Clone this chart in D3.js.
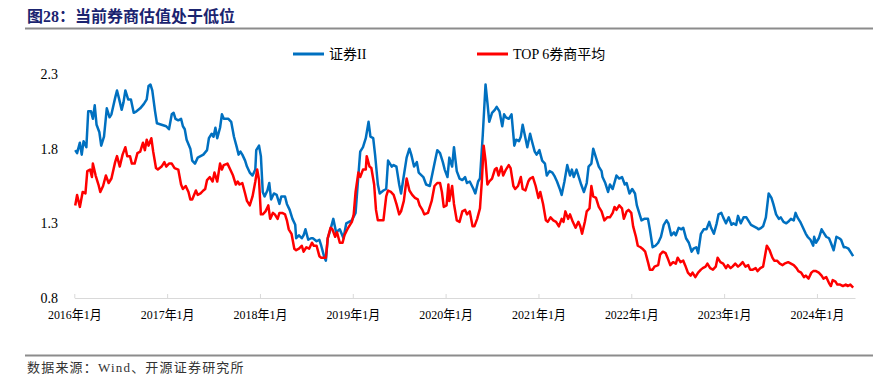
<!DOCTYPE html>
<html>
<head>
<meta charset="utf-8">
<script src="https://cdn.jsdelivr.net/npm/d3@7"></script>
<style>
  body { margin: 0; background: #fff; }
  svg text { font-family: "Liberation Serif", "Noto Sans CJK SC", serif; }
</style>
</head>
<body>
<svg id="chart"></svg>
<script>
// time in decimal years
var blueT = [2016.01,2016.03,2016.06,2016.08,2016.10,2016.13,2016.15,2016.18,2016.20,2016.22,2016.24,2016.27,2016.29,2016.32,2016.35,2016.38,2016.40,2016.44,2016.46,2016.48,2016.51,2016.53,2016.55,2016.58,2016.61,2016.64,2016.67,2016.71,2016.75,2016.78,2016.80,2016.82,2016.84,2016.87,2016.89,2016.94,2016.99,
  2017.02,2017.05,2017.07,2017.09,2017.12,2017.15,2017.17,2017.19,2017.21,2017.25,2017.27,2017.30,2017.33,2017.39,2017.43,2017.45,2017.48,2017.50,2017.52,2017.54,2017.57,2017.59,2017.61,2017.66,2017.69,2017.72,2017.75,2017.77,2017.79,2017.81,2017.84,2017.86,2017.89,2017.92,2017.95,2017.96,2017.99,
  2018.01,2018.03,2018.05,2018.08,2018.10,2018.12,2018.15,2018.18,2018.21,2018.23,2018.27,2018.29,2018.32,2018.35,2018.38,2018.39,2018.42,2018.45,2018.47,2018.49,2018.52,2018.55,2018.57,2018.61,2018.64,2018.66,2018.69,2018.71,2018.73,2018.76,2018.79,2018.82,2018.86,2018.90,2018.93,2018.99,
  2019.03,2019.06,2019.08,2019.11,2019.14,2019.17,2019.19,2019.22,2019.24,2019.27,2019.29,2019.33,2019.36,2019.38,2019.42,2019.44,2019.47,2019.50,2019.52,2019.54,2019.58,2019.61,2019.63,2019.66,2019.69,2019.71,2019.76,2019.79,2019.83,2019.86,2019.88,2019.91,2019.94,2019.97,2019.99,
  2020.02,2020.04,2020.07,2020.09,2020.12,2020.15,2020.18,2020.21,2020.23,2020.26,2020.30,2020.32,2020.35,2020.37,2020.40,2020.43,2020.45,2020.47,2020.50,2020.53,2020.55,2020.58,2020.61,2020.63,2020.65,2020.68,2020.71,2020.74,2020.76,2020.79,2020.81,2020.83,2020.85,2020.88,2020.91,2020.93,2020.96,2020.98,
  2021.01,2021.04,2021.07,2021.09,2021.12,2021.15,2021.17,2021.20,2021.23,2021.25,2021.28,2021.31,2021.34,2021.36,2021.38,2021.41,2021.44,2021.46,2021.49,2021.52,2021.54,2021.57,2021.59,2021.62,2021.65,2021.68,2021.69,2021.72,2021.75,2021.77,2021.80,2021.84,2021.87,2021.90,2021.93,2021.95,2021.98,
  2022.01,2022.04,2022.06,2022.09,2022.11,2022.14,2022.18,2022.20,2022.23,2022.26,2022.29,2022.32,2022.35,2022.38,2022.40,2022.43,2022.46,2022.48,2022.51,2022.54,2022.56,2022.59,2022.62,2022.65,2022.67,2022.70,2022.72,2022.75,2022.78,2022.81,2022.84,2022.86,2022.89,2022.92,2022.94,2022.97,2022.99,
  2023.02,2023.05,2023.08,2023.10,2023.13,2023.15,2023.18,2023.21,2023.24,2023.27,2023.29,2023.32,2023.35,2023.37,2023.40,2023.42,2023.45,2023.48,2023.51,2023.53,2023.56,2023.59,2023.61,2023.64,2023.67,2023.69,2023.72,2023.75,2023.77,2023.79,2023.82,2023.85,2023.88,2023.90,2023.93,2023.96,2023.97,2023.99,
  2024.02,2024.05,2024.07,2024.10,2024.13,2024.15,2024.18,2024.21,2024.24,2024.26,2024.29,2024.31,2024.34,2024.37,2024.39];
var blueV = [1.79,1.77,1.84,1.76,1.85,1.81,2.05,2.05,2.00,2.09,1.96,1.91,1.82,1.88,2.07,2.01,2.03,2.14,2.19,2.14,2.06,2.11,2.19,2.13,2.13,2.04,2.05,2.07,2.10,2.13,2.22,2.23,2.19,2.05,1.97,1.96,1.95,
  1.93,2.03,2.04,2.00,1.99,2.00,1.95,1.93,1.86,1.80,1.72,1.70,1.74,1.76,1.79,1.87,1.90,1.88,1.94,1.87,1.94,2.03,2.00,2.00,1.98,1.88,1.81,1.76,1.78,1.76,1.72,1.68,1.64,1.62,1.66,1.79,1.82,
  1.75,1.51,1.48,1.52,1.57,1.46,1.50,1.49,1.43,1.48,1.48,1.43,1.39,1.33,1.29,1.20,1.22,1.20,1.22,1.26,1.19,1.20,1.20,1.18,1.19,1.15,1.08,1.05,1.20,1.26,1.33,1.24,1.26,1.20,1.30,1.32,
  1.37,1.62,1.78,1.81,1.87,1.98,1.88,1.87,1.76,1.56,1.50,1.52,1.53,1.72,1.68,1.69,1.68,1.56,1.50,1.58,1.74,1.80,1.76,1.68,1.71,1.64,1.61,1.56,1.55,1.64,1.70,1.79,1.77,1.71,1.66,
  1.61,1.74,1.68,1.81,1.65,1.60,1.59,1.61,1.57,1.58,1.53,1.50,1.58,1.60,1.89,2.23,2.11,1.98,2.04,2.06,2.08,2.05,1.95,2.03,2.01,2.00,2.03,1.82,1.86,1.85,1.88,1.96,1.90,1.81,1.90,1.85,1.78,1.76,
  1.79,1.72,1.70,1.62,1.65,1.64,1.62,1.58,1.53,1.49,1.58,1.69,1.62,1.66,1.61,1.66,1.60,1.56,1.51,1.57,1.68,1.70,1.80,1.74,1.68,1.65,1.61,1.57,1.51,1.56,1.53,1.62,1.60,1.61,1.56,1.57,1.50,
  1.53,1.50,1.42,1.36,1.32,1.33,1.33,1.26,1.14,1.15,1.17,1.21,1.29,1.32,1.30,1.22,1.24,1.22,1.27,1.26,1.27,1.20,1.17,1.11,1.13,1.14,1.10,1.23,1.26,1.26,1.31,1.27,1.23,1.30,1.36,1.37,1.34,
  1.30,1.34,1.29,1.30,1.29,1.35,1.30,1.34,1.34,1.31,1.29,1.28,1.27,1.26,1.27,1.28,1.34,1.50,1.47,1.43,1.36,1.33,1.34,1.31,1.30,1.31,1.33,1.32,1.37,1.34,1.31,1.27,1.23,1.21,1.19,1.15,1.21,1.17,
  1.20,1.26,1.24,1.21,1.20,1.17,1.12,1.21,1.20,1.19,1.14,1.14,1.13,1.10,1.08];

var redT = [2016.01,2016.03,2016.06,2016.09,2016.12,2016.14,2016.17,2016.19,2016.20,2016.23,2016.26,2016.28,2016.31,2016.34,2016.37,2016.40,2016.44,2016.46,2016.49,2016.52,2016.55,2016.57,2016.60,2016.62,2016.65,2016.68,2016.71,2016.74,2016.76,2016.78,2016.80,2016.83,2016.85,2016.88,2016.90,2016.94,2016.97,2016.99,
  2017.02,2017.05,2017.08,2017.12,2017.15,2017.17,2017.20,2017.23,2017.25,2017.27,2017.31,2017.33,2017.36,2017.39,2017.41,2017.43,2017.46,2017.49,2017.51,2017.54,2017.57,2017.59,2017.61,2017.65,2017.68,2017.71,2017.74,2017.76,2017.78,2017.81,2017.84,2017.86,2017.89,2017.92,2017.95,2017.97,2017.99,
  2018.01,2018.03,2018.06,2018.09,2018.11,2018.14,2018.16,2018.19,2018.21,2018.24,2018.27,2018.29,2018.31,2018.34,2018.37,2018.39,2018.42,2018.45,2018.47,2018.50,2018.53,2018.56,2018.58,2018.61,2018.64,2018.66,2018.69,2018.71,2018.73,2018.76,2018.78,2018.81,2018.83,2018.86,2018.89,2018.91,2018.95,2018.99,
  2019.01,2019.03,2019.06,2019.08,2019.11,2019.14,2019.15,2019.18,2019.20,2019.23,2019.25,2019.27,2019.33,2019.36,2019.38,2019.41,2019.44,2019.47,2019.50,2019.52,2019.55,2019.58,2019.61,2019.64,2019.67,2019.70,2019.72,2019.75,2019.77,2019.81,2019.85,2019.88,2019.91,2019.94,2019.96,2019.98,
  2020.01,2020.03,2020.04,2020.07,2020.09,2020.12,2020.15,2020.18,2020.21,2020.23,2020.26,2020.29,2020.31,2020.34,2020.37,2020.39,2020.41,2020.43,2020.45,2020.47,2020.50,2020.53,2020.55,2020.57,2020.60,2020.62,2020.65,2020.68,2020.70,2020.73,2020.75,2020.78,2020.81,2020.83,2020.86,2020.89,2020.91,2020.94,2020.97,
  2021.00,2021.02,2021.05,2021.08,2021.10,2021.13,2021.16,2021.19,2021.22,2021.25,2021.27,2021.29,2021.32,2021.34,2021.37,2021.40,2021.43,2021.45,2021.47,2021.50,2021.52,2021.55,2021.57,2021.59,2021.62,2021.65,2021.68,2021.71,2021.74,2021.77,2021.80,2021.82,2021.84,2021.87,2021.90,2021.92,2021.95,2021.97,
  2022.00,2022.02,2022.05,2022.07,2022.10,2022.12,2022.15,2022.18,2022.20,2022.23,2022.25,2022.29,2022.31,2022.34,2022.37,2022.39,2022.42,2022.45,2022.48,2022.50,2022.53,2022.56,2022.58,2022.61,2022.64,2022.66,2022.69,2022.72,2022.75,2022.77,2022.80,2022.82,2022.85,2022.88,2022.91,2022.93,2022.96,2022.99,
  2023.02,2023.04,2023.07,2023.09,2023.12,2023.15,2023.17,2023.20,2023.23,2023.26,2023.28,2023.31,2023.34,2023.36,2023.39,2023.42,2023.44,2023.46,2023.49,2023.52,2023.54,2023.57,2023.60,2023.63,2023.65,2023.69,2023.72,2023.75,2023.78,2023.80,2023.83,2023.86,2023.88,2023.91,2023.94,2023.96,2023.99,
  2024.02,2024.05,2024.07,2024.10,2024.13,2024.15,2024.17,2024.20,2024.22,2024.25,2024.28,2024.31,2024.33,2024.36,2024.39];
var redV = [1.42,1.49,1.41,1.51,1.50,1.65,1.66,1.61,1.70,1.62,1.56,1.51,1.55,1.62,1.57,1.60,1.71,1.75,1.68,1.76,1.81,1.75,1.75,1.70,1.70,1.77,1.78,1.84,1.79,1.86,1.82,1.87,1.78,1.67,1.66,1.68,1.71,1.68,
  1.70,1.70,1.67,1.66,1.56,1.53,1.55,1.51,1.46,1.46,1.52,1.49,1.50,1.52,1.53,1.59,1.61,1.58,1.64,1.58,1.70,1.66,1.69,1.70,1.66,1.62,1.56,1.58,1.56,1.57,1.50,1.45,1.42,1.48,1.58,1.66,1.59,
  1.36,1.36,1.38,1.42,1.33,1.37,1.36,1.33,1.37,1.37,1.36,1.32,1.26,1.23,1.13,1.12,1.13,1.15,1.11,1.14,1.13,1.17,1.15,1.15,1.08,1.07,1.07,1.07,1.20,1.27,1.26,1.21,1.24,1.17,1.17,1.22,1.27,1.31,
  1.36,1.51,1.64,1.61,1.66,1.66,1.75,1.68,1.67,1.56,1.39,1.32,1.32,1.48,1.52,1.51,1.49,1.43,1.36,1.38,1.45,1.60,1.52,1.49,1.47,1.46,1.42,1.39,1.36,1.37,1.45,1.55,1.57,1.57,1.51,1.41,
  1.42,1.56,1.45,1.55,1.43,1.32,1.31,1.38,1.39,1.36,1.38,1.28,1.28,1.33,1.40,1.58,1.82,1.72,1.56,1.58,1.60,1.66,1.67,1.62,1.68,1.62,1.66,1.69,1.67,1.55,1.53,1.55,1.61,1.53,1.52,1.58,1.60,1.61,1.55,
  1.47,1.51,1.43,1.32,1.31,1.34,1.32,1.31,1.28,1.33,1.31,1.38,1.33,1.36,1.31,1.27,1.31,1.28,1.23,1.31,1.38,1.40,1.55,1.48,1.47,1.41,1.38,1.32,1.34,1.34,1.37,1.41,1.39,1.42,1.40,1.33,1.38,1.39,
  1.37,1.28,1.21,1.15,1.14,1.13,1.11,1.04,0.99,0.99,1.01,1.02,1.09,1.11,1.10,1.07,1.02,1.04,1.03,1.07,1.04,1.05,1.02,0.97,0.95,0.97,0.94,0.97,0.99,1.00,1.01,1.03,1.00,0.99,1.01,1.07,1.04,1.03,
  1.00,1.02,1.00,1.01,1.03,1.01,1.02,1.04,1.01,1.02,0.99,0.99,1.00,0.98,1.00,1.01,1.08,1.15,1.12,1.07,1.05,1.05,1.03,1.02,1.03,1.04,1.03,1.02,1.00,0.98,0.97,0.94,0.95,0.93,0.97,0.98,0.98,
  0.97,0.95,0.93,0.94,0.90,0.88,0.92,0.91,0.89,0.89,0.88,0.89,0.88,0.89,0.87];

var yTicks = [0.8, 1.3, 1.8, 2.3];
var xYears = [2016, 2017, 2018, 2019, 2020, 2021, 2022, 2023, 2024];
var seriesNames = ["证券II", "TOP 6券商平均"];
var seriesColors = ["#0070C0", "#FF0000"];

var W = 873, H = 374;
var svg = d3.select("#chart").attr("width", W).attr("height", H);

// title
svg.append("text")
  .attr("x", 27).attr("y", 22)
  .style("font-size", "16px").style("font-weight", "bold")
  .style("fill", "#1B2470")
  .text("图28：当前券商估值处于低位");
svg.append("line")
  .attr("x1", 25).attr("x2", 873).attr("y1", 28.5).attr("y2", 28.5)
  .style("stroke", "#8c8c8c").style("stroke-width", 2);

var x = d3.scaleLinear().domain([2016, 2024.41]).range([74.3, 855]);
var y = d3.scaleLinear().domain([0.8, 2.3]).range([298, 74]);

// x axis
var xAxis = svg.append("g")
  .attr("transform", "translate(0,298)")
  .call(d3.axisBottom(x).tickValues(xYears).tickSizeInner(-4).tickSizeOuter(0)
    .tickFormat(function(d) { return d + "年1月"; }));
xAxis.select(".domain").style("stroke", "#d9d9d9");
xAxis.selectAll(".tick line").style("stroke", "#d9d9d9");
xAxis.selectAll(".tick text")
  .attr("y", 12)
  .style("font-size", "13px").style("fill", "#000")
  .style("font-family", "\"Liberation Serif\", \"Noto Sans CJK SC\", serif")
  .attr("transform", "scale(0.92,1)");

// y axis, labels only
var yAxis = svg.append("g")
  .attr("transform", "translate(60,0)")
  .call(d3.axisLeft(y).tickValues(yTicks).tickSize(0).tickPadding(2).tickFormat(d3.format(".1f")));
yAxis.select(".domain").remove();
yAxis.selectAll(".tick text")
  .style("font-size", "14px").style("fill", "#000")
  .style("font-family", "\"Liberation Serif\", serif");

// lines
var line = d3.line()
  .x(function(d) { return x(d[0]); })
  .y(function(d) { return y(d[1]); });

var blueData = d3.zip(blueT, blueV);
var redData = d3.zip(redT, redV);

svg.append("path").datum(blueData)
  .attr("d", line)
  .style("fill", "none").style("stroke", seriesColors[0])
  .style("stroke-width", 2.5).style("stroke-linejoin", "round");
svg.append("path").datum(redData)
  .attr("d", line)
  .style("fill", "none").style("stroke", seriesColors[1])
  .style("stroke-width", 2.5).style("stroke-linejoin", "round");

// legend
var legendX = [293, 477];
var legend = svg.selectAll(".legend")
  .data(seriesNames)
  .enter().append("g")
  .attr("transform", function(d, i) { return "translate(" + legendX[i] + ",54)"; });
legend.append("line")
  .attr("x1", 0).attr("x2", 31)
  .style("stroke", function(d, i) { return seriesColors[i]; })
  .style("stroke-width", 3);
legend.append("text")
  .attr("x", 36).attr("y", 5)
  .style("font-size", "14px").style("fill", "#000")
  .text(function(d) { return d; });

// footer
svg.append("line")
  .attr("x1", 25).attr("x2", 873).attr("y1", 355.5).attr("y2", 355.5)
  .style("stroke", "#8c8c8c").style("stroke-width", 2);
svg.append("text")
  .attr("x", 27).attr("y", 372)
  .style("font-size", "13px").style("letter-spacing", "1.2px").style("fill", "#333")
  .text("数据来源：Wind、开源证券研究所");
</script>
</body>
</html>
